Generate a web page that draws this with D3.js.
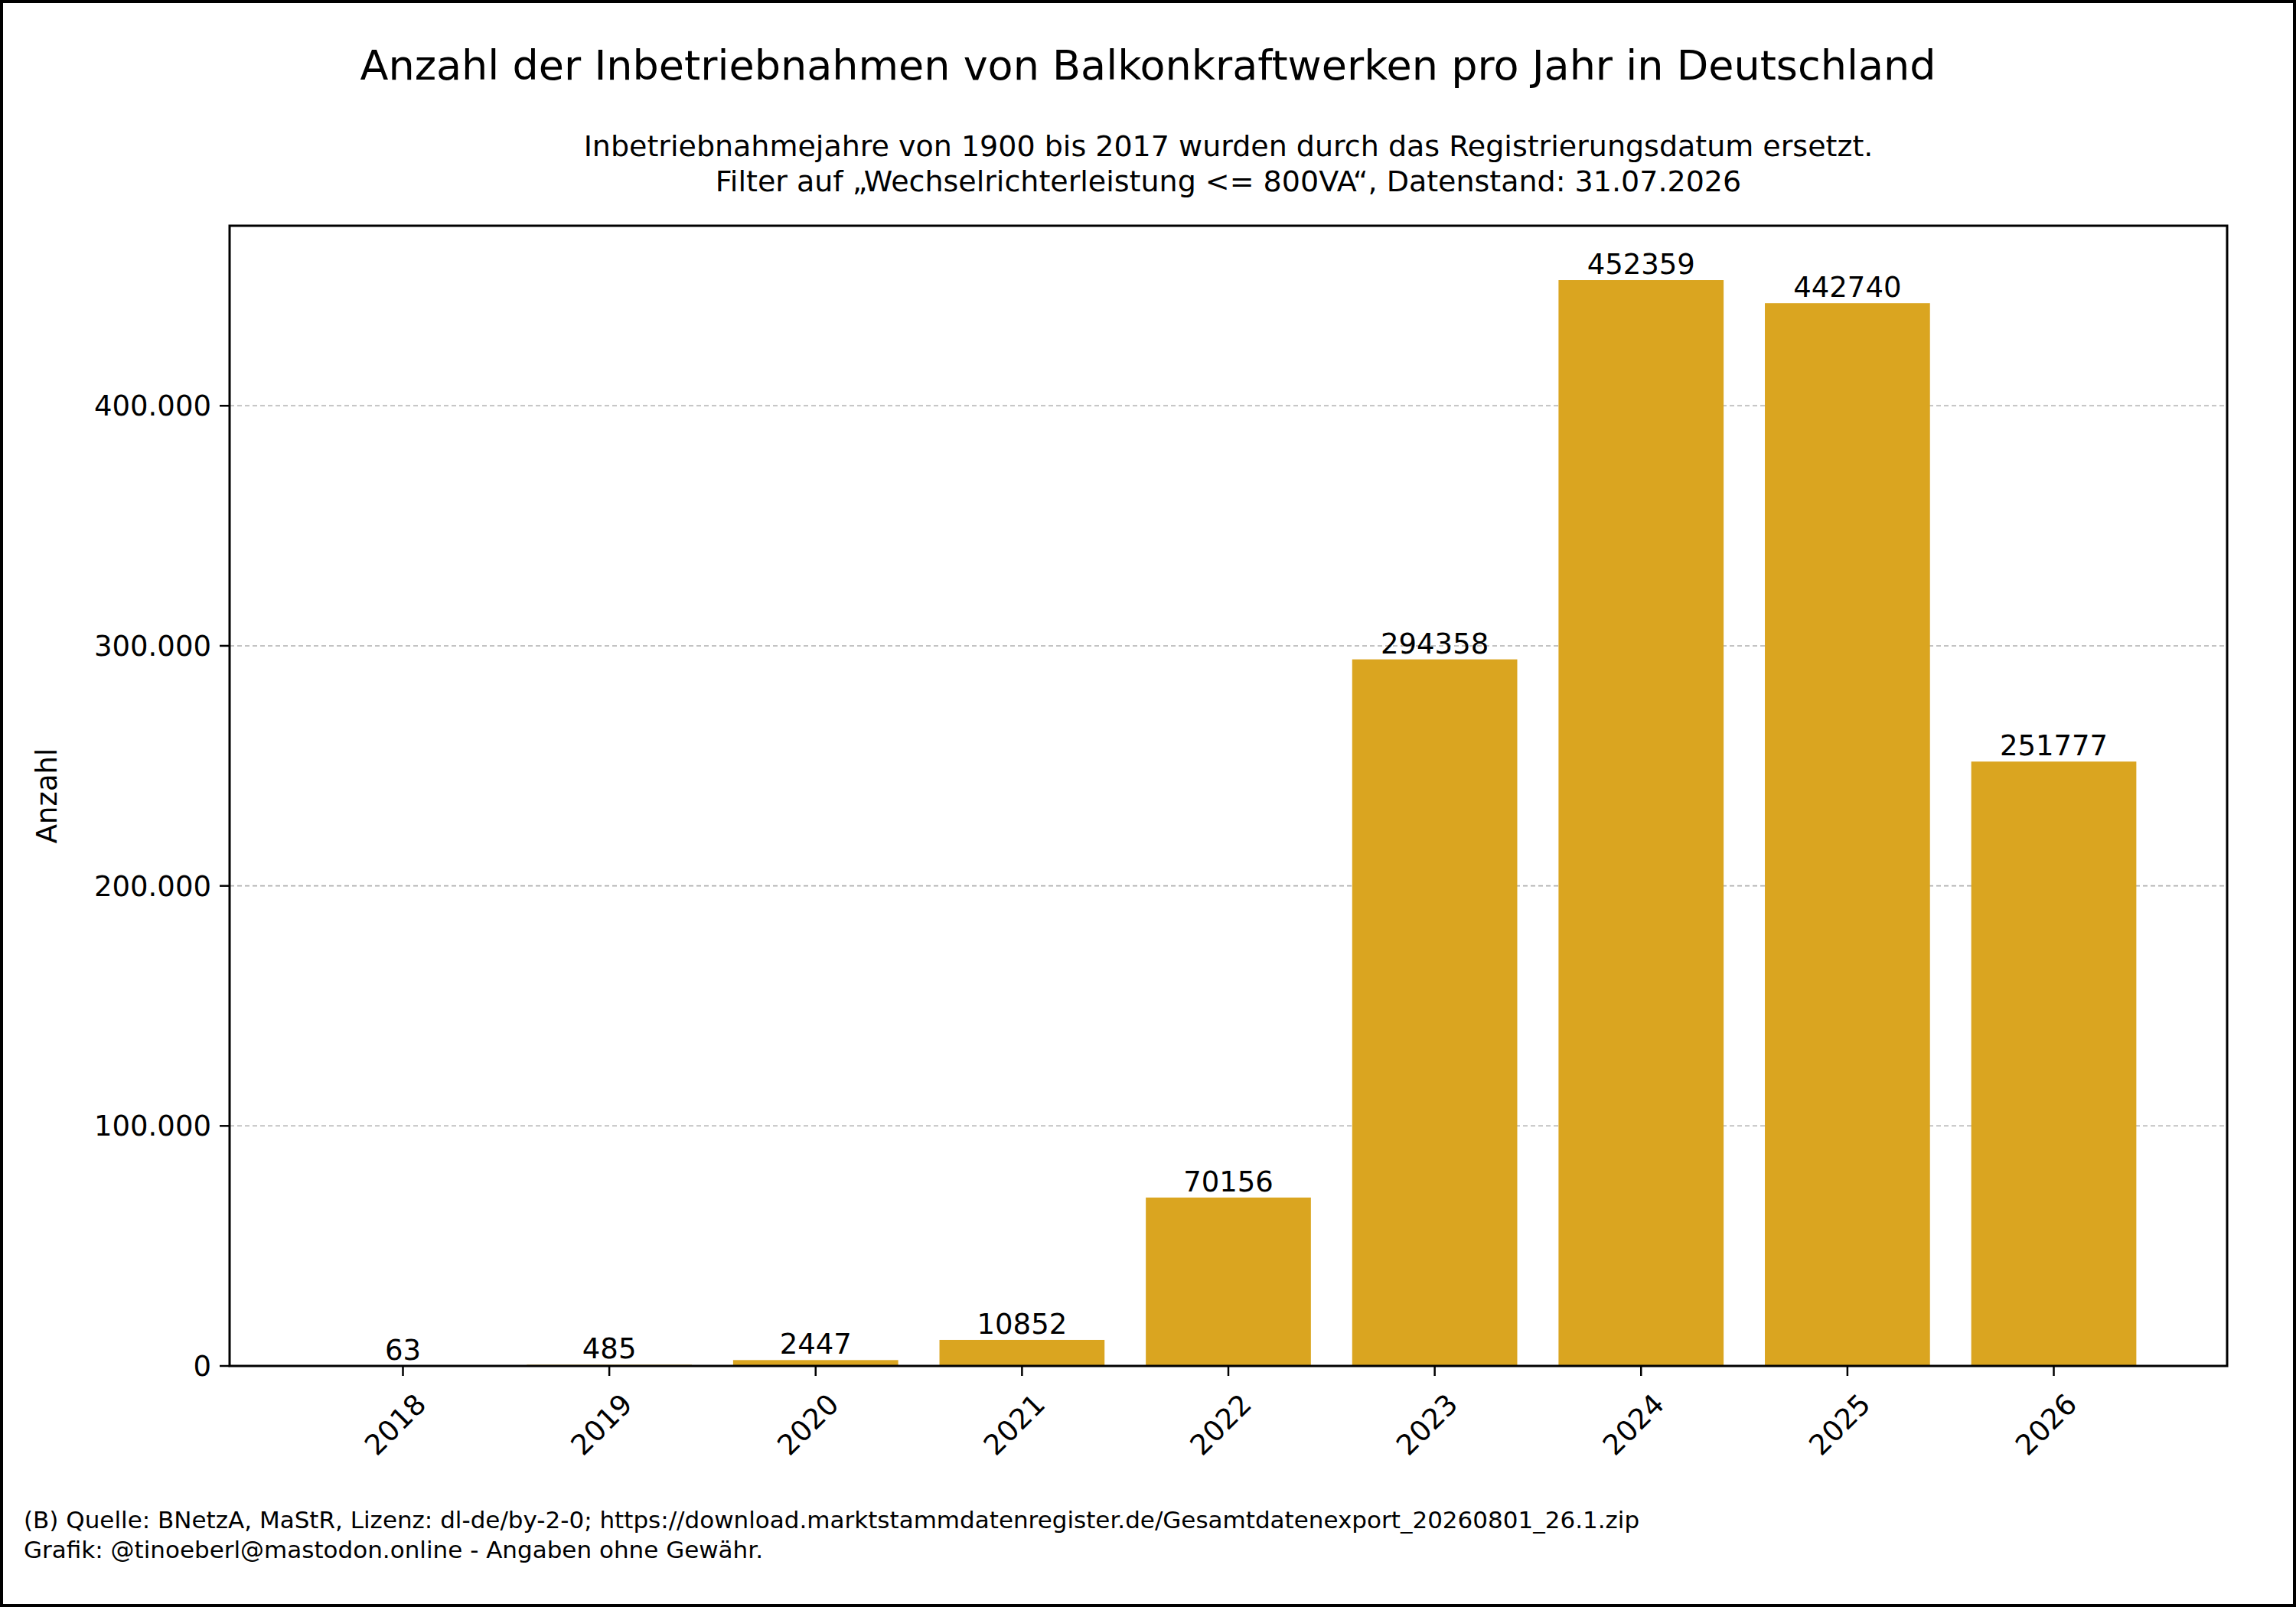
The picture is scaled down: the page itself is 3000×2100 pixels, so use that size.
<!DOCTYPE html>
<html><head><meta charset="utf-8">
<script src="https://cdn.jsdelivr.net/npm/d3@7"></script>
<style>body{margin:0;background:#fff}text{font-family:"DejaVu Sans",sans-serif}</style>
</head><body>
<script>
const years = ["2018","2019","2020","2021","2022","2023","2024","2025","2026"];
const counts = [63,485,2447,10852,70156,294358,452359,442740,251777];
const yTicks = [0,100000,200000,300000,400000];

const W=3000,H=2100, m={l:300,r:90,t:295,b:315};
const svg=d3.select("body").append("svg").attr("width",W).attr("height",H);
svg.append("rect").attr("x",2).attr("y",2).attr("width",W-4).attr("height",H-4).attr("fill","#fff").attr("stroke","#000").attr("stroke-width",4);

const x=d3.scaleLinear().domain([-0.84,years.length-1+0.84]).range([m.l,W-m.r]);
const y=d3.scaleLinear().domain([0,475000]).range([H-m.b,m.t]);
const bw=x(0.8)-x(0);
const fmt=d3.formatLocale({decimal:",",thousands:".",grouping:[3]}).format(",d");

// grid
svg.append("g").selectAll("line").data(yTicks.slice(1)).join("line")
 .attr("x1",m.l).attr("x2",W-m.r).attr("y1",d=>y(d)).attr("y2",d=>y(d))
 .attr("stroke","#b0b0b0").attr("stroke-width",1.6).attr("stroke-dasharray","6,4");

svg.append("g").selectAll("rect").data(counts).join("rect")
 .attr("x",(d,i)=>x(i)-bw/2).attr("width",bw).attr("y",d=>y(d)).attr("height",d=>y(0)-y(d))
 .attr("fill","#daa520");

svg.append("g").selectAll("text").data(counts).join("text")
 .attr("x",(d,i)=>x(i)).attr("y",d=>y(d)-8).attr("text-anchor","middle")
 .attr("font-size",37).text(d=>d);

// frame
svg.append("rect").attr("x",m.l).attr("y",m.t).attr("width",W-m.r-m.l).attr("height",H-m.b-m.t)
 .attr("fill","none").attr("stroke","#000").attr("stroke-width",3);

// y axis
const ya=svg.append("g");
yTicks.forEach(t=>{
  ya.append("line").attr("x1",m.l-13).attr("x2",m.l).attr("y1",y(t)).attr("y2",y(t)).attr("stroke","#000").attr("stroke-width",2.5);
  ya.append("text").attr("x",m.l-24).attr("y",y(t)).attr("dy","0.35em").attr("text-anchor","end").attr("font-size",37).text(fmt(t));
});
// x axis
const xa=svg.append("g");
years.forEach((yr,i)=>{
  const px=x(i), py=H-m.b;
  xa.append("line").attr("x1",px).attr("x2",px).attr("y1",py).attr("y2",py+13).attr("stroke","#000").attr("stroke-width",2.5);
  xa.append("text").attr("transform",`translate(${px+14},${py+34}) rotate(-45)`).attr("text-anchor","end").attr("dy","0.7em")
   .attr("font-size",37).text(yr);
});

svg.append("text").attr("transform",`translate(74,${(m.t+H-m.b)/2}) rotate(-90)`).attr("text-anchor","middle").attr("font-size",37).text("Anzahl");

svg.append("text").attr("x",W/2).attr("y",104).attr("text-anchor","middle").attr("font-size",54)
 .text("Anzahl der Inbetriebnahmen von Balkonkraftwerken pro Jahr in Deutschland");
const cx=(m.l+W-m.r)/2;
svg.append("text").attr("x",cx).attr("y",204).attr("text-anchor","middle").attr("font-size",38)
 .text("Inbetriebnahmejahre von 1900 bis 2017 wurden durch das Registrierungsdatum ersetzt.");
svg.append("text").attr("x",cx).attr("y",250).attr("text-anchor","middle").attr("font-size",38)
 .text("Filter auf „Wechselrichterleistung <= 800VA“, Datenstand: 31.07.2026");

svg.append("text").attr("x",31).attr("y",1997).attr("font-size",31)
 .text("(B) Quelle: BNetzA, MaStR, Lizenz: dl-de/by-2-0; https://download.marktstammdatenregister.de/Gesamtdatenexport_20260801_26.1.zip");
svg.append("text").attr("x",31).attr("y",2036).attr("font-size",31)
 .text("Grafik: @tinoeberl@mastodon.online - Angaben ohne Gewähr.");
</script>
</body></html>
